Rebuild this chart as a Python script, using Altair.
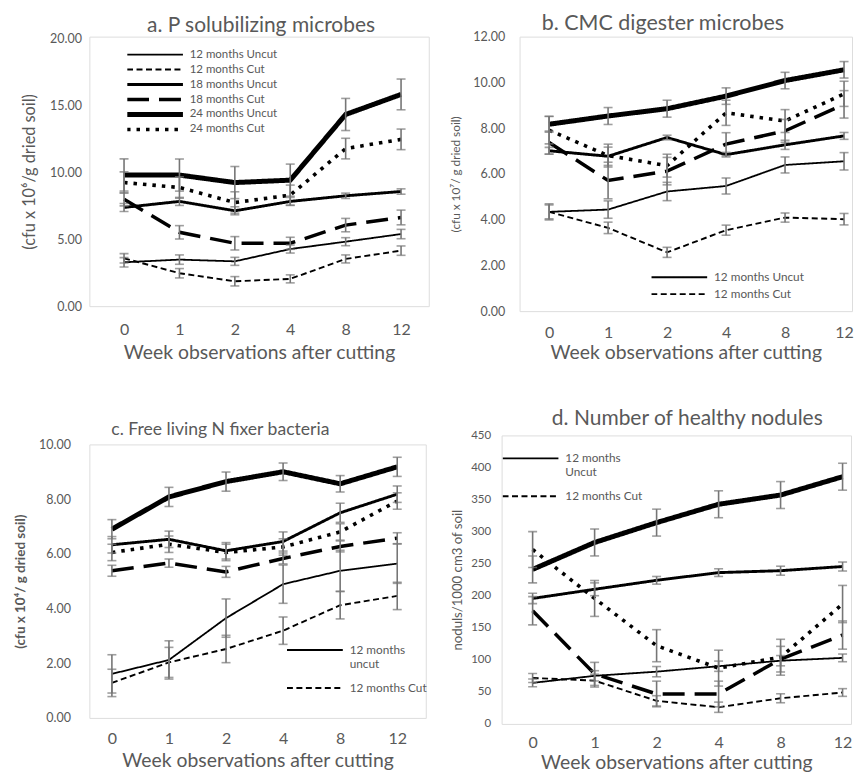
import json
import altair as alt
import pandas as pd

weeks = ["0", "1", "2", "4", "8", "12"]
series = ["12 months Uncut", "12 months Cut", "18 months Uncut",
          "18 months Cut", "24 months Uncut", "24 months Cut"]

# ---- panel a: P solubilizing microbes (cfu x 10^6 / g dried soil)
a_12U = [3.28, 3.48, 3.35, 4.27, 4.82, 5.39]
a_12C = [3.58, 2.46, 1.86, 2.04, 3.53, 4.15]
a_18U = [7.38, 7.83, 7.13, 7.83, 8.25, 8.57]
a_18C = [8.00, 5.52, 4.70, 4.70, 6.06, 6.63]
a_24U = [9.81, 9.80, 9.24, 9.42, 14.33, 15.83]
a_24C = [9.24, 8.87, 7.75, 8.30, 11.78, 12.47]
a_e12U = [0.35, 0.35, 0.30, 0.30, 0.30, 0.35]
a_e12C = [0.35, 0.35, 0.35, 0.30, 0.30, 0.35]
a_e18U = [0.30, 0.30, 0.30, 0.30, 0.20, 0.20]
a_e18C = [0.50, 0.50, 0.50, 0.45, 0.50, 0.55]
a_e24U = [1.20, 1.20, 1.20, 1.20, 1.20, 1.15]
a_e24C = [0.80, 0.80, 0.80, 0.75, 0.77, 0.77]

# ---- panel b: CMC digester microbes (cfu x 10^7 / g dried soil)
b_12U = [4.34, 4.44, 5.23, 5.47, 6.39, 6.55]
b_12C = [4.34, 3.64, 2.57, 3.54, 4.09, 4.02]
b_18U = [7.01, 6.77, 7.59, 6.84, 7.27, 7.66]
b_18C = [7.37, 5.71, 6.12, 7.30, 7.88, 9.04]
b_24U = [8.17, 8.53, 8.85, 9.40, 10.08, 10.55]
b_24C = [7.91, 6.80, 6.36, 8.67, 8.31, 9.50]
b_e12U = [0.35, 0.38, 0.40, 0.35, 0.35, 0.38]
b_e12C = [0.30, 0.25, 0.22, 0.22, 0.20, 0.25]
b_e18U = [0.15, 0.40, 0.10, 0.10, 0.20, 0.15]
b_e18C = [0.50, 0.80, 0.60, 0.50, 0.50, 0.60]
b_e24U = [0.35, 0.37, 0.37, 0.36, 0.36, 0.36]
b_e24C = [0.60, 0.50, 0.50, 0.55, 0.50, 0.55]

# ---- panel c: Free living N fixer bacteria (cfu x 10^4 / g dried soil)
c_12U = [1.61, 2.12, 3.65, 4.89, 5.38, 5.64]
c_12C = [1.28, 2.03, 2.52, 3.19, 4.12, 4.46]
c_18U = [6.33, 6.53, 6.11, 6.45, 7.50, 8.18]
c_18C = [5.38, 5.66, 5.34, 5.83, 6.27, 6.57]
c_24U = [6.90, 8.08, 8.64, 9.00, 8.56, 9.18]
c_24C = [6.05, 6.35, 6.05, 6.25, 6.80, 7.93]
c_e12U = [0.70, 0.70, 0.70, 0.70, 0.75, 0.72]
c_e12C = [0.50, 0.55, 0.50, 0.50, 0.50, 0.50]
c_e18U = [0.30, 0.30, 0.30, 0.35, 0.35, 0.30]
c_e18C = [0.20, 0.15, 0.20, 0.20, 0.20, 0.20]
c_e24U = [0.35, 0.35, 0.35, 0.32, 0.30, 0.35]
c_e24C = [0.30, 0.30, 0.30, 0.30, 0.30, 0.30]

# ---- panel d: Number of healthy nodules (noduls / 1000 cm3 of soil)
d_12U = [64, 75, 81.5, 90, 98.6, 103]
d_12C = [71.6, 67.5, 36, 26, 40, 49]
d_18U = [195.7, 210, 224, 236, 239, 245.5]
d_18C = [176.5, 78, 46.7, 46.7, 101, 138.6]
d_24U = [241, 283, 314, 342.6, 357, 385.6]
d_24C = [272, 195.7, 122, 87, 104, 187]
d_e12U = [6, 8, 8, 8, 8, 6]
d_e12C = [7, 10, 8, 8, 7, 6]
d_e18U = [8, 10, 6, 6, 7, 7]
d_e18C = [22, 18, 20, 20, 20, 22]
d_e24U = [21, 21, 21, 21, 21, 21]
d_e24C = [28, 28, 25, 28, 28, 29]

GRAY = "#595959"
ERR = "#767676"
FONT = "Lato"

dash_range = [[1, 0], [6, 3.5], [1, 0], [22, 10], [1, 0], [3.5, 6]]
line_style = {
    "12 months Uncut": dict(strokeWidth=1.8),
    "12 months Cut": dict(strokeWidth=1.9),
    "18 months Uncut": dict(strokeWidth=2.9),
    "18 months Cut": dict(strokeWidth=3.5),
    "24 months Uncut": dict(strokeWidth=5.0),
    "24 months Cut": dict(strokeWidth=3.6),
}
width_expr = ("datum.value == '24 months Uncut' ? 5.0 : datum.value == '24 months Cut' ? 3.6 : "
              "datum.value == '18 months Cut' ? 3.5 : datum.value == '18 months Uncut' ? 2.9 : 1.9")


def make_df(vals, errs):
    rows = []
    for s, v_list, e_list in zip(series, vals, errs):
        for i, w in enumerate(weeks):
            v, e = v_list[i], e_list[i]
            rows.append(dict(series=s, week=w, idx=i, value=v, lo=v - e, hi=v + e))
    return pd.DataFrame(rows)


label_expr = json.dumps(weeks) + "[datum.value]"


def panel(df, width, height, xdom, ydom, yvals, yfmt, ytitle, ytitle_style,
          title, title_style, legend, ylabel_size=12.5, ylabel_pad=14, ytitle_pad=10,
          xlabel_pad=15, xtitle_pad=6):
    xscale = alt.Scale(domain=xdom, nice=False, zero=False)
    yscale = alt.Scale(domain=ydom, nice=False)
    xaxis = alt.Axis(values=list(range(len(weeks))), labelExpr=label_expr, grid=False,
                     ticks=False, domain=False, labelFontSize=16, labelPadding=xlabel_pad,
                     labelColor=GRAY, titleColor=GRAY, titleFontSize=19.4,
                     titleFontWeight="normal", titlePadding=xtitle_pad, labelFont=FONT,
                     titleFont=FONT)
    yaxis = alt.Axis(values=yvals, format=yfmt, grid=False, ticks=False, domain=False,
                     labelFontSize=ylabel_size, labelPadding=ylabel_pad, labelColor=GRAY,
                     titleColor=GRAY, titlePadding=ytitle_pad, labelFont=FONT, titleFont=FONT,
                     **ytitle_style)
    X = alt.X("idx:Q", scale=xscale, axis=xaxis, title="Week observations after cutting")
    base = alt.Chart(df)
    layers = []
    for s in series:
        layers.append(
            base.transform_filter(alt.datum.series == s)
            .mark_line(color="black", **line_style[s])
            .encode(
                x=X,
                y=alt.Y("value:Q", scale=yscale, axis=yaxis, title=ytitle),
                strokeDash=alt.StrokeDash("series:N", scale=alt.Scale(domain=series, range=dash_range),
                                          legend=legend),
            )
        )
    layers.append(
        base.mark_rule(color=ERR, strokeWidth=1.6).encode(
            x=X, y=alt.Y("lo:Q", scale=yscale, axis=yaxis, title=ytitle), y2="hi:Q")
    )
    for fld in ["lo", "hi"]:
        layers.append(
            base.mark_tick(color=ERR, thickness=1.6, size=9, orient="horizontal").encode(
                x=X, y=alt.Y(f"{fld}:Q", scale=yscale, axis=yaxis, title=ytitle))
        )
    return alt.layer(*layers).properties(
        width=width, height=height,
        title=alt.TitleParams(color=GRAY, font=FONT, fontWeight="normal", frame="group",
                              **title, **title_style),
    )


def mk_legend(x, y, clip_h, values=None, label_expr=None, font_size=11.8):
    kw = dict(orient="none", legendX=x, legendY=y, title=None, symbolType="stroke",
              symbolSize=3136, symbolStrokeColor="black", labelColor=GRAY,
              labelFontSize=font_size, labelFont=FONT, rowPadding=0, padding=0,
              clipHeight=clip_h, symbolOffset=22, labelOffset=29,
              symbolStrokeWidth=alt.ExprRef(width_expr))
    if values is not None:
        kw["values"] = values
    if label_expr is not None:
        kw["labelExpr"] = label_expr
    return alt.Legend(**kw)


dfa = make_df([a_12U, a_12C, a_18U, a_18C, a_24U, a_24C],
              [a_e12U, a_e12C, a_e18U, a_e18C, a_e24U, a_e24C])
dfb = make_df([b_12U, b_12C, b_18U, b_18C, b_24U, b_24C],
              [b_e12U, b_e12C, b_e18U, b_e18C, b_e24U, b_e24C])
dfc = make_df([c_12U, c_12C, c_18U, c_18C, c_24U, c_24C],
              [c_e12U, c_e12C, c_e18U, c_e18C, c_e24U, c_e24C])
dfd = make_df([d_12U, d_12C, d_18U, d_18C, d_24U, d_24C],
              [d_e12U, d_e12C, d_e18U, d_e18C, d_e24U, d_e24C])

pa = panel(dfa, 340, 270, [-0.626, 5.5], [0, 20.15], [0, 5, 10, 15, 20], ".2f",
           "(cfu x 10\u2076/g dried soil)", dict(titleFontSize=16.3, titleFontWeight="normal"),
           dict(text="a. P solubilizing microbes"),
           dict(fontSize=21, offset=-3.5, anchor="middle", dx=2),
           mk_legend(38, 10.8, 14.4, font_size=11.5),
           ylabel_pad=8, ytitle_pad=12, xlabel_pad=15, xtitle_pad=6)

pb = panel(dfb, 333, 275, [-0.5, 5.135], [0, 12], [0, 2, 4, 6, 8, 10, 12], ".2f",
           "(cfu x 10\u2077/ g dried soil)", dict(titleFontSize=11.8, titleFontWeight="normal"),
           dict(text="b. CMC digester microbes"),
           dict(fontSize=21.5, offset=-3.5, anchor="middle", dx=-23),
           mk_legend(132, 232.75, 16.5, values=series[:2]),
           ylabel_pad=15, ytitle_pad=11, xlabel_pad=13, xtitle_pad=3)

pc = panel(dfc, 337, 274, [-0.395, 5.5], [0, 10], [0, 2, 4, 6, 8, 10], ".2f",
           "(cfu x 10\u2074/ g dried soil)", dict(titleFontSize=13.5, titleFontWeight="bold"),
           dict(text=["", "c. Free living N fixer bacteria"]),
           dict(fontSize=17.6, offset=0, anchor="start", dx=22, lineHeight=12.5),
           mk_legend(198, 189.2, 33.6, values=series[:2],
                     label_expr="datum.label == '12 months Uncut' ? ['12 months', 'uncut'] : datum.label"),
           ylabel_pad=19, ytitle_pad=11, xlabel_pad=13, xtitle_pad=5)

pd_ = panel(dfd, 350, 289, [-0.5, 5.136], [0, 450], list(range(0, 451, 50)), "d",
            "noduls/1000 cm3 of soil", dict(titleFontSize=13.2, titleFontWeight="normal"),
            dict(text="d. Number of healthy nodules"),
            dict(fontSize=21, offset=0, anchor="middle", dx=11),
            mk_legend(1, 5.8, 34.4, values=series[:2],
                      label_expr="datum.label == '12 months Uncut' ? ['12 months', 'Uncut'] : datum.label"),
            ylabel_size=11.5, ylabel_pad=11, ytitle_pad=6, xlabel_pad=11, xtitle_pad=3)

chart = alt.concat(pa, pb, pc, pd_, columns=2, align="none",
                   spacing={"row": 45.5, "column": 20}).resolve_scale(
    x="independent", y="independent", strokeDash="independent").resolve_legend(
    strokeDash="independent").properties(
    padding={"left": 4.5, "top": 3, "right": 0, "bottom": 0}
).configure_view(stroke="black", strokeWidth=1.6).configure(font=FONT)

chart.save("out.html", embed_options={"renderer": "svg", "actions": False})
